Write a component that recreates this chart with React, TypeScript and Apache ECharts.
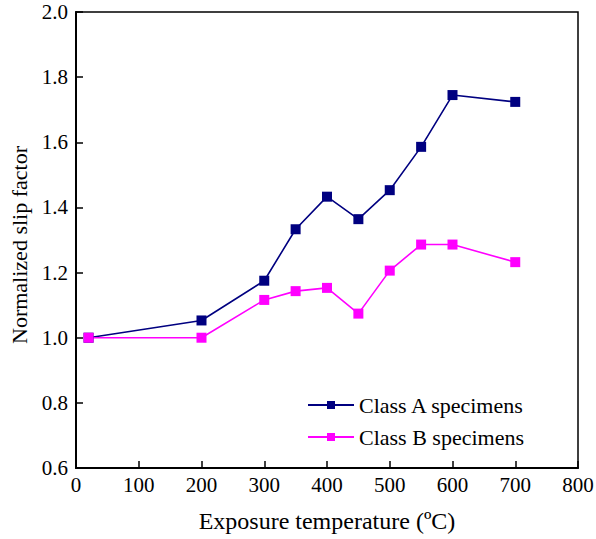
import React, { useEffect, useRef } from "react";
import * as echarts from "echarts";

const temps = [20, 200, 300, 350, 400, 450, 500, 550, 600, 700];
const classA = [1.0, 1.053, 1.175, 1.333, 1.433, 1.364, 1.453, 1.586, 1.745, 1.724];
const classB = [1.0, 1.0, 1.116, 1.143, 1.153, 1.074, 1.206, 1.286, 1.286, 1.232];
const seriesNames = ["Class A specimens", "Class B specimens"];

const FONT = "Liberation Serif";

export default function App() {
  const ref = useRef<HTMLDivElement>(null);
  useEffect(() => {
    const chart = echarts.init(ref.current!, null, { renderer: "svg" });
    const mk = (vals: number[]) => temps.map((t, i) => [t, vals[i]]);
    chart.setOption({
      animation: false,
      backgroundColor: "#fff",
      grid: {
        left: 76,
        right: 18,
        top: 12,
        bottom: 71,
        outerBoundsMode: "none",
        containLabel: false,
        show: true,
        borderColor: "#000",
        borderWidth: 1.5,
        backgroundColor: "transparent",
      },
      legend: {
        left: 302,
        top: 389,
        orient: "vertical",
        itemWidth: 46,
        itemHeight: 10,
        itemGap: 10,
        textStyle: { fontFamily: FONT, fontSize: 22, color: "#000" },
        data: seriesNames,
      },
      xAxis: {
        type: "value",
        min: 0,
        max: 800,
        interval: 100,
        name: "Exposure temperature (ºC)",
        nameLocation: "middle",
        nameGap: 41,
        nameTextStyle: { fontFamily: FONT, fontSize: 24, color: "#000" },
        axisLine: { show: true, lineStyle: { color: "#000", width: 2 } },
        axisTick: { show: true, inside: true, length: 7, lineStyle: { color: "#000", width: 1.5 } },
        axisLabel: { fontFamily: FONT, fontSize: 21, color: "#000", margin: 6 },
        splitLine: { show: false },
      },
      yAxis: {
        type: "value",
        min: 0.6,
        max: 2.0,
        interval: 0.2,
        name: "Normalized slip factor",
        nameLocation: "middle",
        nameGap: 45,
        nameTextStyle: { fontFamily: FONT, fontSize: 22, color: "#000", padding: [0, 10, 0, 0] },
        axisLine: { show: true, lineStyle: { color: "#000", width: 2 } },
        axisTick: { show: true, inside: true, length: 7, lineStyle: { color: "#000", width: 1.5 } },
        axisLabel: {
          fontFamily: FONT,
          fontSize: 21,
          color: "#000",
          margin: 8,
          formatter: (v: number) => v.toFixed(1),
        },
        splitLine: { show: false },
      },
      series: [
        {
          name: seriesNames[0],
          type: "line",
          data: mk(classA),
          symbol: "rect",
          symbolSize: 10,
          color: "#000080",
          lineStyle: { color: "#000080", width: 1.6 },
          itemStyle: { color: "#000080" },
        },
        {
          name: seriesNames[1],
          type: "line",
          data: mk(classB),
          symbol: "rect",
          symbolSize: 10,
          color: "#ff00ff",
          lineStyle: { color: "#ff00ff", width: 1.6 },
          itemStyle: { color: "#ff00ff" },
        },
      ],
    });
    return () => chart.dispose();
  }, []);
  return (
    <div
      ref={ref}
      style={{ width: 596, height: 539, position: "absolute", left: 0, top: 0 }}
    />
  );
}
